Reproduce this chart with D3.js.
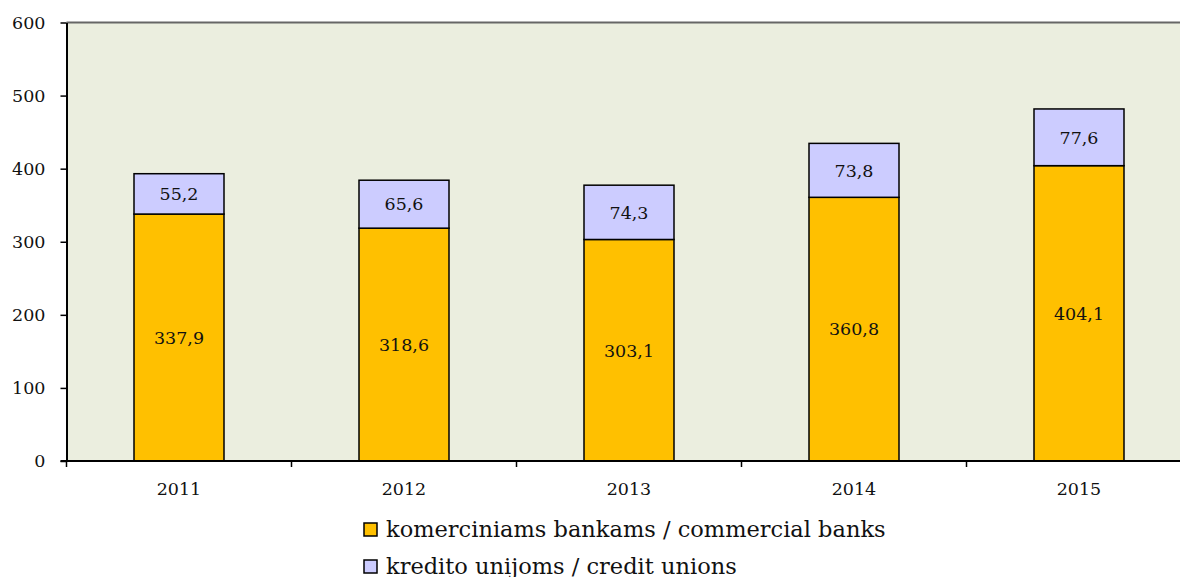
<!DOCTYPE html>
<html>
<head>
<meta charset="utf-8">
<script src="https://cdn.jsdelivr.net/npm/d3@7"></script>
<style>
  body { margin: 0; background: #fff; }
  svg text { font-family: "DejaVu Serif", serif; fill: #111; }
</style>
</head>
<body>
<div id="chart"></div>
<script>
// data
var years = ["2011", "2012", "2013", "2014", "2015"];
var banks = [337.9, 318.6, 303.1, 360.8, 404.1];
var unions = [55.2, 65.6, 74.3, 73.8, 77.6];
var yTicks = [0, 100, 200, 300, 400, 500, 600];
var seriesNames = ["komerciniams bankams / commercial banks", "kredito unijoms / credit unions"];
var seriesColors = ["#FFC000", "#CCCCFF"];

var width = 1180, height = 577;
var plotLeft = 66.5, plotTop = 22.5, plotBottom = 461, bandW = 225;

var svg = d3.select("#chart").append("svg")
    .attr("width", width)
    .attr("height", height);

var x = d3.scaleBand()
    .domain(years)
    .range([plotLeft, plotLeft + bandW * years.length])
    .paddingInner(0.6)
    .paddingOuter(0.3);

var y = d3.scaleLinear()
    .domain([0, 600])
    .range([plotBottom, plotTop]);

// plot background
svg.append("rect")
    .attr("x", plotLeft).attr("y", plotTop)
    .attr("width", width - plotLeft + 20).attr("height", plotBottom - plotTop)
    .attr("fill", "#EBEEDF");

// top border
svg.append("line")
    .attr("x1", plotLeft).attr("x2", width)
    .attr("y1", plotTop).attr("y2", plotTop)
    .attr("stroke", "#666").attr("stroke-width", 2);

// stacked bars
var stackData = years.map(function (yr, i) {
    return { year: yr, banks: banks[i], unions: unions[i] };
});
var stack = d3.stack().keys(["banks", "unions"])(stackData);

stack.forEach(function (layer, k) {
    var g = svg.append("g");
    g.selectAll("rect")
        .data(layer)
        .enter().append("rect")
        .attr("x", function (d) { return x(d.data.year); })
        .attr("y", function (d) { return y(d[1]); })
        .attr("width", x.bandwidth())
        .attr("height", function (d) { return y(d[0]) - y(d[1]); })
        .attr("fill", seriesColors[k])
        .attr("stroke", "#000")
        .attr("stroke-width", 1.5);

    g.selectAll("text")
        .data(layer)
        .enter().append("text")
        .attr("x", function (d) { return x(d.data.year) + x.bandwidth() / 2; })
        .attr("y", function (d) { return y((d[0] + d[1]) / 2); })
        .attr("dy", "0.36em")
        .attr("text-anchor", "middle")
        .style("font-size", "17.5px")
        .text(function (d) { return (d[1] - d[0]).toFixed(1).replace(".", ","); });
});

// y axis
var yAxis = svg.append("g")
    .attr("transform", "translate(" + plotLeft + ",0)")
    .call(d3.axisLeft(y).tickValues(yTicks).tickSize(6).tickPadding(15).tickSizeOuter(0));
yAxis.select(".domain").attr("stroke", "#000").attr("stroke-width", 2);
yAxis.selectAll(".tick line").attr("stroke", "#000").attr("stroke-width", 1.5);
yAxis.selectAll("text").style("font-size", "17.5px").attr("fill", "#111");

// x axis with ticks on the category boundaries
var boundaries = d3.range(years.length + 1).map(function (i) { return plotLeft + i * bandW; });
svg.append("line")
    .attr("x1", plotLeft - 6).attr("x2", width)
    .attr("y1", plotBottom).attr("y2", plotBottom)
    .attr("stroke", "#000").attr("stroke-width", 2);
svg.selectAll(".xtick")
    .data(boundaries)
    .enter().append("line")
    .attr("class", "xtick")
    .attr("x1", function (d) { return d; }).attr("x2", function (d) { return d; })
    .attr("y1", plotBottom).attr("y2", plotBottom + 6)
    .attr("stroke", "#000").attr("stroke-width", 1.5);
svg.selectAll(".xlabel")
    .data(years)
    .enter().append("text")
    .attr("class", "xlabel")
    .attr("x", function (d) { return x(d) + x.bandwidth() / 2; })
    .attr("y", 495)
    .attr("text-anchor", "middle")
    .style("font-size", "17.5px")
    .text(function (d) { return d; });

// legend
var legend = svg.selectAll(".legend")
    .data(seriesNames)
    .enter().append("g")
    .attr("class", "legend")
    .attr("transform", function (d, i) { return "translate(364," + (537 + i * 37) + ")"; });
legend.append("rect")
    .attr("x", 0).attr("y", -14)
    .attr("width", 13).attr("height", 13)
    .attr("fill", function (d, i) { return seriesColors[i]; })
    .attr("stroke", "#000").attr("stroke-width", 1.5);
legend.append("text")
    .attr("x", 22).attr("y", 0)
    .style("font-size", "22.5px")
    .text(function (d) { return d; });
</script>
</body>
</html>
